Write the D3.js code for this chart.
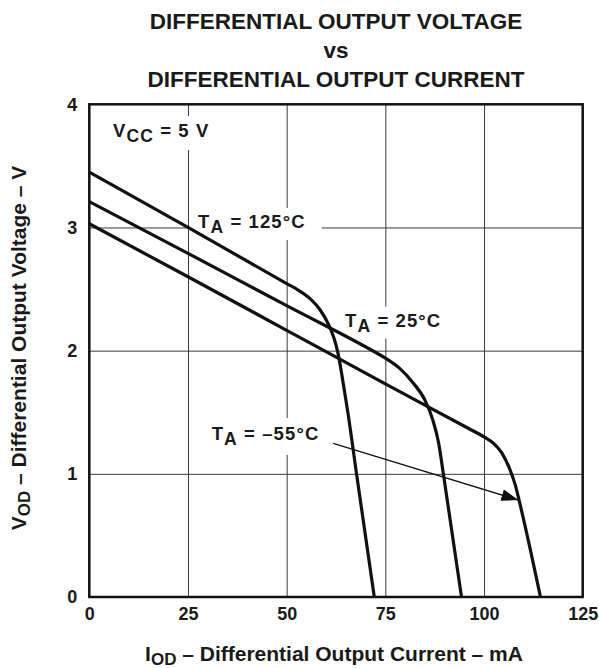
<!DOCTYPE html>
<html>
<head>
<meta charset="utf-8">
<script src="https://cdn.jsdelivr.net/npm/d3@7"></script>
<style>
  body { margin: 0; background: #fff; }
  svg text { font-family: "Liberation Sans", Arial, Helvetica, sans-serif; font-weight: bold; fill: #1a1a1a; }
</style>
</head>
<body>
<svg id="chart" width="599" height="668"></svg>
<script>
// ---- data ----
const xTicks = [0, 25, 50, 75, 100, 125];
const yTicks = [0, 1, 2, 3, 4];

const current125 = [0, 25, 50, 53, 56, 58.5, 60.5, 62, 63, 64, 65.5, 67.7, 72.2];
const voltage125 = [3.45, 3.0, 2.545, 2.49, 2.42, 2.33, 2.22, 2.1, 1.98, 1.8, 1.5, 1.0, 0];

const current25 = [0, 25, 50, 72, 75, 78.5, 82, 85, 87, 88.5, 89.7, 94.3];
const voltage25 = [3.21, 2.79, 2.365, 1.995, 1.94, 1.86, 1.74, 1.6, 1.44, 1.25, 1.0, 0];

const currentM55 = [0, 25, 50, 75, 96, 100, 102.5, 104.5, 106.5, 108, 109, 114.3];
const voltageM55 = [3.03, 2.6, 2.165, 1.73, 1.37, 1.30, 1.245, 1.17, 1.04, 0.9, 0.77, 0];

const seriesNames = ["T_A = 125°C", "T_A = 25°C", "T_A = –55°C"];

// ---- layout ----
const svg = d3.select("#chart");
const x = d3.scaleLinear().domain([0, 125]).range([89.3, 582.7]);
const y = d3.scaleLinear().domain([0, 4]).range([597, 104.3]);
const W = x(125) - x(0), H = y(0) - y(4);

// title
const title = ["DIFFERENTIAL OUTPUT VOLTAGE", "vs", "DIFFERENTIAL OUTPUT CURRENT"];
svg.append("g").selectAll("text").data(title).join("text")
  .attr("x", 336).attr("y", (d, i) => 29 + i * 29)
  .attr("text-anchor", "middle").style("font-size", "22.5px").text(d => d);

// gridlines
svg.append("g").attr("transform", `translate(0,${y(0)})`)
  .call(d3.axisBottom(x).tickValues([25, 50, 75, 100]).tickSize(-H).tickFormat(""))
  .call(g => g.select(".domain").remove())
  .call(g => g.selectAll("line").attr("stroke", "#3a3a3a").attr("stroke-width", 1));
svg.append("g").attr("transform", `translate(${x(0)},0)`)
  .call(d3.axisLeft(y).tickValues([1, 2, 3]).tickSize(-W).tickFormat(""))
  .call(g => g.select(".domain").remove())
  .call(g => g.selectAll("line").attr("stroke", "#3a3a3a").attr("stroke-width", 1));

// annotation layer: boxes first, then curves, then text
const boxLayer = svg.append("g");
const curveLayer = svg.append("g");
const textLayer = svg.append("g");

function subLabel(parent, px, py, main, sub, rest, size, subSize, shift) {
  const t = parent.append("text").attr("x", px).attr("y", py)
    .style("font-size", size + "px").style("letter-spacing", "1.1px");
  t.append("tspan").text(main);
  t.append("tspan").attr("dy", shift).style("font-size", subSize + "px").text(sub);
  t.append("tspan").attr("dy", -shift).text(rest);
  return t;
}

const labels = [
  { t: ["V", "CC", " = 5 V"], px: 113, py: 137, padL: 5, padR: 6, padT: 4, padB: 4 },
  { t: ["T", "A", " = 125°C"], px: 198, py: 228, padL: 8, padR: 16, padT: 3, padB: 3 },
  { t: ["T", "A", " = 25°C"], px: 345, py: 326.5, padL: 5, padR: 5, padT: 3, padB: 3 },
  { t: ["T", "A", " = –55°C"], px: 211.7, py: 440, padL: 5, padR: 5, padT: 5, padB: 6 }
];
labels.forEach(l => {
  const t = subLabel(textLayer, l.px, l.py, l.t[0], l.t[1], l.t[2], 18.5, 17.5, 5);
  const b = t.node().getBBox();
  boxLayer.append("rect")
    .attr("x", b.x - l.padL).attr("y", b.y - l.padT)
    .attr("width", b.width + l.padL + l.padR).attr("height", b.height + l.padT + l.padB)
    .attr("fill", "#fff");
});

// curves
const line = d3.line().x(d => x(d[0])).y(d => y(d[1])).curve(d3.curveMonotoneX);
const curves = [
  d3.zip(current125, voltage125),
  d3.zip(current25, voltage25),
  d3.zip(currentM55, voltageM55)
];
curveLayer.selectAll("path").data(curves).join("path")
  .attr("d", line).attr("fill", "none").attr("stroke", "#111")
  .attr("stroke-width", 3.2).attr("stroke-linejoin", "round");

// arrow for -55 label
const defs = svg.append("defs");
defs.append("marker").attr("id", "arr").attr("viewBox", "0 0 17 12")
  .attr("refX", 17).attr("refY", 6).attr("markerWidth", 17).attr("markerHeight", 12)
  .attr("markerUnits", "userSpaceOnUse").attr("orient", "auto")
  .append("path").attr("d", "M0,0 L17,6 L0,12 Z").attr("fill", "#111");
textLayer.append("line")
  .attr("x1", x(61.8)).attr("y1", y(1.247))
  .attr("x2", x(108.7)).attr("y2", y(0.787))
  .attr("stroke", "#111").attr("stroke-width", 1.2).attr("marker-end", "url(#arr)");

// frame
svg.append("rect").attr("x", x(0)).attr("y", y(4)).attr("width", W).attr("height", H)
  .attr("fill", "none").attr("stroke", "#111").attr("stroke-width", 2.5);

// tick labels
svg.append("g").attr("transform", `translate(0,${y(0)})`)
  .call(d3.axisBottom(x).tickValues(xTicks).tickSize(0).tickPadding(10).tickFormat(d3.format("d")))
  .call(g => g.select(".domain").remove())
  .call(g => g.selectAll("text").style("font-size", "18px").attr("fill", "#1a1a1a"));
svg.append("g").attr("transform", `translate(${x(0)},0)`)
  .call(d3.axisLeft(y).tickValues(yTicks).tickSize(0).tickPadding(12).tickFormat(d3.format("d")))
  .call(g => g.select(".domain").remove())
  .call(g => g.selectAll("text").style("font-size", "18px").attr("fill", "#1a1a1a"));

// axis titles
const xl = svg.append("text").attr("x", 334).attr("y", 661).attr("text-anchor", "middle").style("font-size", "21px");
xl.append("tspan").text("I");
xl.append("tspan").attr("dy", 4).style("font-size", "17px").text("OD");
xl.append("tspan").attr("dy", -4).text(" – Differential Output Current – mA");

const yl = svg.append("text").attr("transform", "translate(26,348) rotate(-90)")
  .attr("text-anchor", "middle").style("font-size", "21px");
yl.append("tspan").text("V");
yl.append("tspan").attr("dy", 4).style("font-size", "17px").text("OD");
yl.append("tspan").attr("dy", -4).text(" – Differential Output Voltage – V");
</script>
</body>
</html>
